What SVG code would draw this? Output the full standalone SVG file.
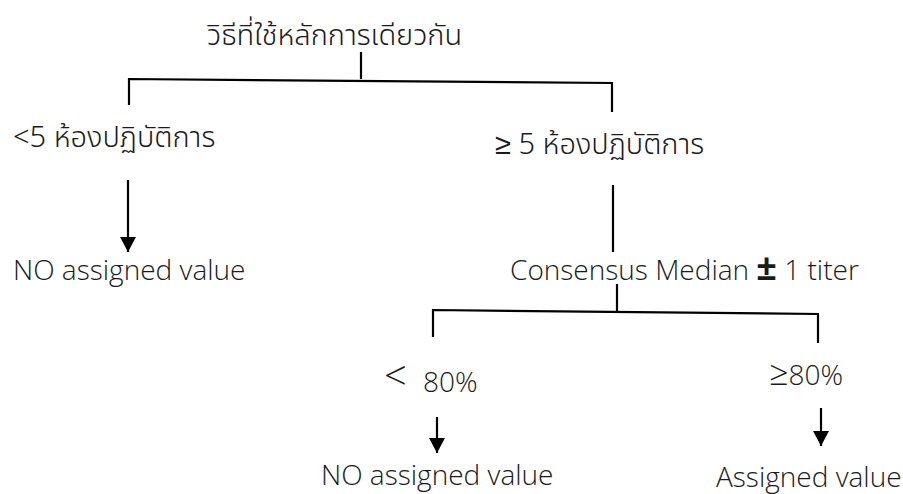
<svg xmlns="http://www.w3.org/2000/svg" width="903" height="494" viewBox="0 0 903 494">
<style>
.t{font-family:"Open Sans","Noto Sans",sans-serif;font-size:28px;font-weight:300;fill:#1a1a1a}
.th{font-family:"Noto Sans Thai","Noto Serif Thai","Loma","Garuda","Noto Sans",sans-serif;font-size:29px;font-weight:300;fill:#1a1a1a}
.ln{stroke:#000;stroke-width:2.2;fill:none}
</style>
<defs>
<marker id="ah" markerUnits="userSpaceOnUse" markerWidth="16" markerHeight="16" viewBox="0 0 16 16" refX="15" refY="8" orient="auto">
<path d="M0,0 L15,8 L0,16 Z" fill="#000"/>
</marker>
</defs>
<rect width="903" height="494" fill="#fff"/>
<g id="connectors">
<line class="ln" x1="361" y1="52" x2="361" y2="79"/>
<polyline class="ln" points="129,105 129,79 612,83 612,112"/>
<line class="ln" x1="128" y1="180" x2="128" y2="252" marker-end="url(#ah)"/>
<line class="ln" x1="613" y1="185" x2="613" y2="252"/>
<line class="ln" x1="617" y1="284" x2="617" y2="311"/>
<polyline class="ln" points="433,337 433,310 818,314 818,343"/>
<line class="ln" x1="437" y1="417" x2="437" y2="453" marker-end="url(#ah)"/>
<line class="ln" x1="821" y1="408" x2="821" y2="446" marker-end="url(#ah)"/>
</g>
<g id="n-root"><text class="th" x="207" y="45">วิธีที่ใช้หลักการเดียวกัน</text></g>
<g id="n-lt5"><text class="th" x="13" y="147">&lt;5 ห้องปฏิบัติการ</text></g>
<g id="n-ge5"><text class="th" x="495" y="154">≥ 5 ห้องปฏิบัติการ</text></g>
<g id="n-noassign1"><text class="t" x="13" y="280">NO assigned value</text></g>
<g id="n-consensus"><text class="t" x="510" y="280">Consensus Median <tspan font-weight="bold" font-size="36">±</tspan> 1 titer</text></g>
<g id="n-lt80"><text class="t" y="392"><tspan x="384" y="390" font-size="40">&lt;</tspan><tspan x="423" y="392">80%</tspan></text></g>
<g id="n-ge80"><text class="t" y="385"><tspan x="769" font-size="34">≥</tspan>80%</text></g>
<g id="n-noassign2"><text class="t" x="321" y="485">NO assigned value</text></g>
<g id="n-assigned"><text class="t" x="716" y="487">Assigned value</text></g>
</svg>
